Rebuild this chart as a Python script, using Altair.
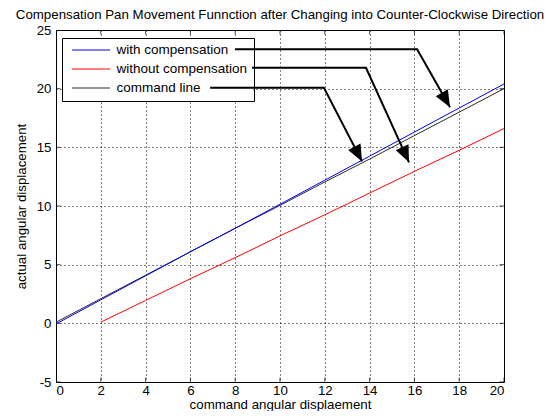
import math
import altair as alt
import pandas as pd

TITLE = "Compensation Pan Movement Funnction after Changing into Counter-Clockwise Direction"
X_TITLE = "command angular displaement"
Y_TITLE = "actual angular displacement"

series_names = ["with compensation", "without compensation", "command line"]
series_colors = ["#0000ff", "#ff0000", "#2a2a2a"]

x_full = [0, 2, 4, 6, 8, 10, 12, 14, 16, 18, 20]
y_with = [-0.05, 2.0, 4.05, 6.1, 8.1, 10.15, 12.2, 14.25, 16.3, 18.35, 20.4]
y_command = [0.1, 2.1, 4.1, 6.1, 8.1, 10.05, 12.05, 14.0, 16.0, 18.0, 20.0]
x_without = [2, 4, 6, 8, 10, 12, 14, 16, 18, 20]
y_without = [0.1, 1.95, 3.8, 5.6, 7.45, 9.25, 11.1, 12.95, 14.75, 16.6]

x_ticks = [0, 2, 4, 6, 8, 10, 12, 14, 16, 18, 20]
y_ticks = [-5, 0, 5, 10, 15, 20, 25]

# annotation arrows (data coordinates): start, corner, tip
arrow_x = [[7.99, 16.12, 17.59], [8.75, 13.84, 15.76], [6.88, 11.96, 13.66]]
arrow_y = [[23.35, 23.35, 18.42], [21.78, 21.78, 13.72], [20.07, 20.07, 13.80]]

W, H = 448, 352
PX_X = W / 20.0
PX_Y = H / 30.0
FONT = "Liberation Sans"
FS = 13.3

rows = []
for xv, yv in zip(x_full, y_command):
    rows.append({"series": series_names[2], "x": xv, "y": yv})
for xv, yv in zip(x_without, y_without):
    rows.append({"series": series_names[1], "x": xv, "y": yv})
for xv, yv in zip(x_full, y_with):
    rows.append({"series": series_names[0], "x": xv, "y": yv})
df = pd.DataFrame(rows)

arrow_rows = []
head_rows = []
for i, (ax, ay) in enumerate(zip(arrow_x, arrow_y)):
    for j, (xv, yv) in enumerate(zip(ax, ay)):
        arrow_rows.append({"id": i, "k": j, "x": xv, "y": yv})
    dxp = (ax[2] - ax[1]) * PX_X
    dyp = -(ay[2] - ay[1]) * PX_Y
    ang = (-math.degrees(math.atan2(dxp, dyp))) % 360
    head_rows.append({"x": ax[2], "y": ay[2], "angle": ang})
arrows_df = pd.DataFrame(arrow_rows)
heads_df = pd.DataFrame(head_rows)

xs = alt.Scale(domain=[0, 20], nice=False, zero=False)
ys = alt.Scale(domain=[-5, 25], nice=False, zero=False)

stroke_enc = alt.Stroke(
    "series:N",
    scale=alt.Scale(domain=series_names, range=series_colors),
    legend=alt.Legend(
        title=None, orient="none", legendX=6, legendY=8,
        symbolType="stroke", symbolSize=1444, symbolStrokeWidth=1,
        clipHeight=12, padding=6, rowPadding=5, symbolOffset=3.5, labelOffset=6,
        strokeColor="black", fillColor="transparent",
        labelFont=FONT, labelFontSize=13.5, labelColor="black",
    ),
)

lab = "'' + datum.value"
base_x = alt.X("x:Q", scale=xs, axis=alt.Axis(values=x_ticks, title=X_TITLE, labelExpr=lab, labelPadding=1, titlePadding=1))
base_y = alt.Y("y:Q", scale=ys, axis=alt.Axis(values=y_ticks, title=Y_TITLE, labelExpr=lab, labelPadding=5, titlePadding=8))

# white background of the legend box (hides the grid; arrows pass over it)
legend_bg = alt.Chart(pd.DataFrame({"k": [0]})).mark_rect(color="white").encode(
    x=alt.value(6), x2=alt.value(197), y=alt.value(8), y2=alt.value(71)
)

layers = []
for name in [series_names[2], series_names[1], series_names[0]]:
    layers.append(
        alt.Chart(df[df["series"] == name]).mark_line(strokeWidth=1).encode(
            x=base_x, y=base_y, stroke=stroke_enc, order="x:Q"
        )
    )

# inward ticks
xt = pd.DataFrame({"x": x_ticks})
yt = pd.DataFrame({"y": y_ticks})
tick_layers = [
    alt.Chart(xt).mark_tick(orient="vertical", size=9, thickness=1, color="black", clip=True).encode(x=alt.X("x:Q", scale=xs), y=alt.value(H)),
    alt.Chart(xt).mark_tick(orient="vertical", size=9, thickness=1, color="black", clip=True).encode(x=alt.X("x:Q", scale=xs), y=alt.value(0)),
    alt.Chart(yt).mark_tick(orient="horizontal", size=9, thickness=1, color="black", clip=True).encode(y=alt.Y("y:Q", scale=ys), x=alt.value(0)),
    alt.Chart(yt).mark_tick(orient="horizontal", size=9, thickness=1, color="black", clip=True).encode(y=alt.Y("y:Q", scale=ys), x=alt.value(W)),
]

arrow_lines = alt.Chart(arrows_df).mark_line(color="black", strokeWidth=2).encode(
    x=alt.X("x:Q", scale=xs), y=alt.Y("y:Q", scale=ys), detail="id:N", order="k:Q"
)
arrow_heads = alt.Chart(heads_df).mark_point(
    shape="M0,0L-0.42,-1L0.42,-1Z", filled=True, color="black", opacity=1, size=1100, strokeWidth=0
).encode(
    x=alt.X("x:Q", scale=xs), y=alt.Y("y:Q", scale=ys), angle=alt.Angle("angle:Q", scale=None)
)

chart = alt.layer(*tick_layers, *layers, legend_bg, arrow_lines, arrow_heads).properties(
    width=W,
    height=H,
    title=alt.Title(TITLE, fontSize=FS, font=FONT, fontWeight="normal", color="black",
                    offset=2, anchor="middle"),
    autosize=alt.AutoSizeParams(type="none"),
    padding={"left": 48, "top": 22, "right": 40, "bottom": 29},
).configure_view(
    stroke="black", strokeWidth=1
).configure_axis(
    domain=False, ticks=False, grid=True, gridColor="black", gridDash=[1, 3], gridOpacity=1, gridWidth=1,
    labelFont=FONT, labelFontSize=FS, labelColor="black",
    titleFont=FONT, titleFontSize=FS, titleColor="black", titleFontWeight="normal",
)

chart.save("out.html", embed_options={"renderer": "svg", "actions": False})
